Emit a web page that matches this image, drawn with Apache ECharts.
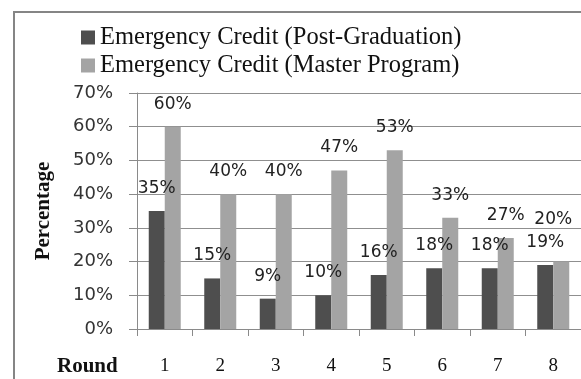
<!DOCTYPE html>
<html>
<head>
<meta charset="utf-8">
<script src="https://cdn.jsdelivr.net/npm/echarts@6/dist/echarts.min.js"></script>
<style>
  html, body { margin: 0; padding: 0; background: #fff; }
  #chart { width: 581px; height: 379px; }
</style>
</head>
<body>
<div id="chart"></div>
<script>
// Rounds and the share of emergency credit (percent) for each programme
const rounds = ['1', '2', '3', '4', '5', '6', '7', '8'];
const postGraduation = [35, 15, 9, 10, 16, 18, 18, 19];
const masterProgram = [60, 40, 40, 47, 53, 33, 27, 20];
const seriesNames = ['Emergency Credit (Post-Graduation)', 'Emergency Credit (Master Program)'];

const chart = echarts.init(document.getElementById('chart'), null, { renderer: 'canvas' });

const labelStyle = {
  show: true,
  position: 'top',
  distance: 14,
  formatter: '{c}%',
  fontFamily: 'DejaVu Sans',
  fontSize: 17,
  color: '#222'
};

// Lift a master-programme label when it would collide with its neighbour's label
const masterData = masterProgram.map((v, i) =>
  Math.abs(v - postGraduation[i]) < 4
    ? { value: v, label: { distance: 33, offset: [-8, 0] } }
    : v
);

chart.setOption({
  animation: false,
  backgroundColor: '#fff',
  graphic: [
    {
      type: 'rect',
      shape: { x: 14, y: 12, width: 600, height: 400 },
      style: { fill: 'none', stroke: '#858585', lineWidth: 2 },
      silent: true
    },
    {
      type: 'text',
      left: 57,
      top: 356,
      style: {
        text: 'Round',
        font: 'bold 21px "Liberation Serif"',
        fill: '#111'
      }
    }
  ],
  legend: {
    orient: 'vertical',
    left: 81,
    top: 25,
    padding: 0,
    itemWidth: 14,
    itemHeight: 14,
    itemGap: 3,
    icon: 'rect',
    textStyle: {
      fontFamily: 'Liberation Serif',
      fontSize: 24.5,
      lineHeight: 25,
      color: '#111'
    },
    data: seriesNames
  },
  grid: {
    left: 137,
    top: 93,
    right: -4,
    bottom: 50
  },
  xAxis: {
    type: 'category',
    data: rounds,
    axisLine: { lineStyle: { color: '#8a8a8a', width: 1 } },
    axisTick: { show: true, length: 7, lineStyle: { color: '#8a8a8a' } },
    axisLabel: {
      margin: 28,
      fontFamily: 'Liberation Serif',
      fontSize: 19,
      color: '#111'
    }
  },
  yAxis: {
    type: 'value',
    min: 0,
    max: 70,
    interval: 10,
    name: 'Percentage',
    nameLocation: 'middle',
    nameGap: 83,
    nameTextStyle: {
      fontFamily: 'Liberation Serif',
      fontWeight: 'bold',
      fontSize: 21,
      color: '#111'
    },
    axisLine: { show: true, lineStyle: { color: '#8a8a8a' } },
    axisTick: { show: true, length: 8, lineStyle: { color: '#8a8a8a' } },
    axisLabel: {
      formatter: '{value}%',
      margin: 24,
      fontFamily: 'DejaVu Sans',
      fontSize: 18,
      color: '#333'
    },
    splitLine: { lineStyle: { color: '#8f8f8f', width: 1 } }
  },
  series: [
    {
      name: seriesNames[0],
      type: 'bar',
      data: postGraduation,
      barWidth: 16,
      barGap: '0%',
      itemStyle: { color: '#4e4e4e' },
      label: labelStyle
    },
    {
      name: seriesNames[1],
      type: 'bar',
      data: masterData,
      barWidth: 16,
      itemStyle: { color: '#a4a4a4' },
      label: labelStyle
    }
  ]
});
</script>
</body>
</html>
